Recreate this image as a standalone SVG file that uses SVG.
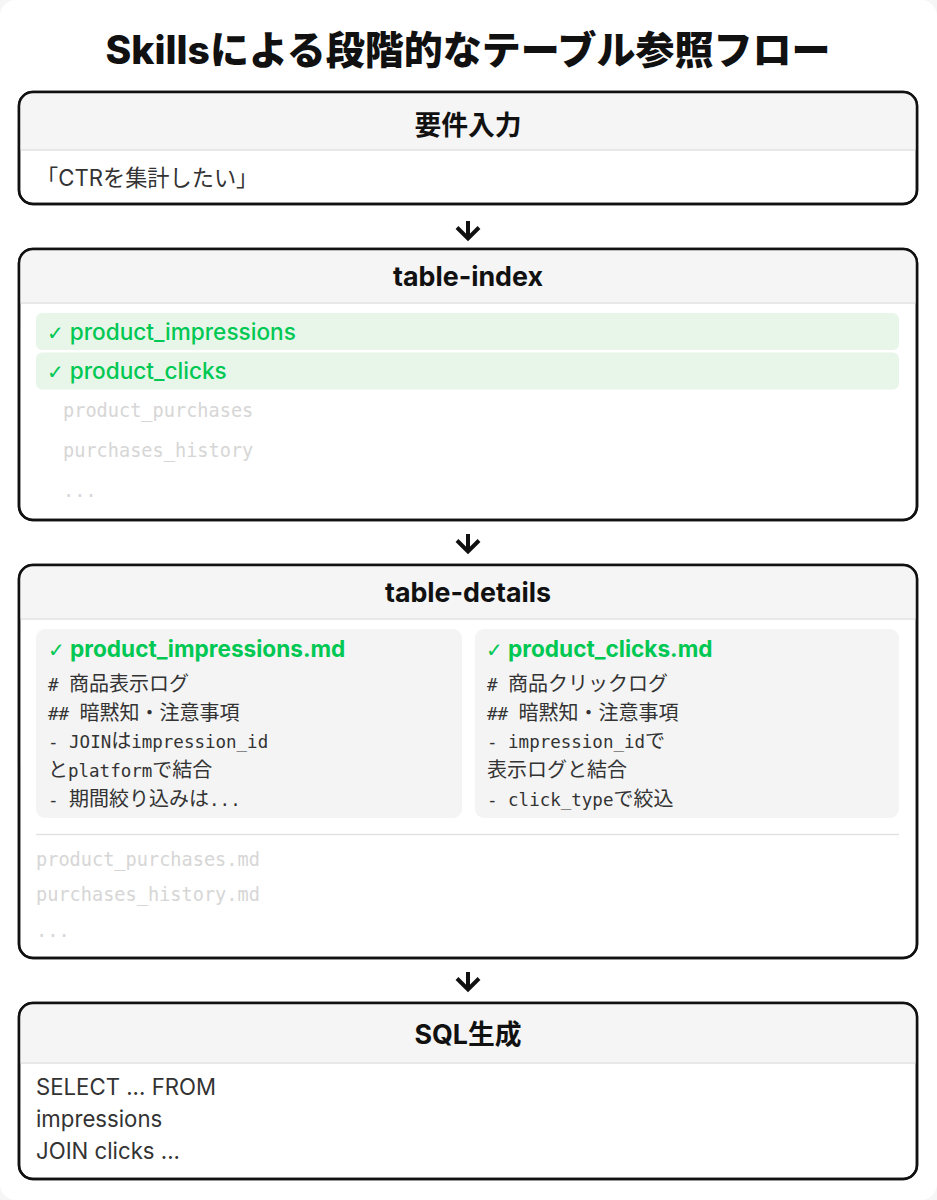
<svg xmlns="http://www.w3.org/2000/svg" width="937" height="1200" viewBox="0 0 937 1200">
<style>
.sans{font-family:Inter,"Noto Sans CJK JP",sans-serif}
.mono{font-family:"DejaVu Sans Mono","Noto Sans CJK JP",monospace}
.box{fill:#ffffff;stroke:#111111;stroke-width:2.5}
.hdr{fill:#f5f5f5}
.sep{stroke:#e2e2e2;stroke-width:1.5}
.htxt{font-size:26.8px;font-weight:700;fill:#111111;text-anchor:middle}
.body{font-size:22.2px;fill:#333333}
.hit{fill:#e8f6ea}
.green{fill:#00c853;font-size:22.6px;font-weight:500}
.gtitle{fill:#00c853;font-size:22.6px;font-weight:700}
.ck{font-family:"DejaVu Sans",sans-serif;font-weight:400;font-size:20px}
.dim{fill:#d6d6d6;font-size:18.6px}
.card{fill:#f4f4f4}
.cl{font-size:17.5px;fill:#333333}
.cj{font-size:20px}
.arrow{fill:none;stroke:#111111;stroke-width:4;stroke-linecap:butt;stroke-linejoin:miter}
</style>
<rect x="0" y="0" width="937" height="1200" fill="#f6f6f6"/>
<rect x="0" y="0" width="937" height="1200" rx="16" fill="#ffffff"/>
<text x="468" y="64" class="sans" font-size="39" font-weight="800" fill="#111111" text-anchor="middle">Skillsによる段階的なテーブル参照フロー</text>

<g id="connectors">
  <path class="arrow" d="M468 221V237M457 227.5L468 238.5L479 227.5"/>
  <path class="arrow" d="M468 534V550M457 540.5L468 551.5L479 540.5"/>
  <path class="arrow" d="M468 972V988M457 978.5L468 989.5L479 978.5"/>
</g>

<g id="node-requirement">
  <clipPath id="c1"><rect x="19" y="92" width="898" height="112" rx="14"/></clipPath>
  <rect class="box" x="19" y="92" width="898" height="112" rx="14"/>
  <rect class="hdr" x="19" y="92" width="898" height="58" clip-path="url(#c1)"/>
  <line class="sep" x1="20" y1="150" x2="916" y2="150"/>
  <rect x="19" y="92" width="898" height="112" rx="14" fill="none" stroke="#111111" stroke-width="2.5"/>
  <text x="468" y="135" class="sans htxt">要件入力</text>
  <text x="36" y="186" class="sans body">「CTRを集計したい」</text>
</g>

<g id="node-table-index">
  <clipPath id="c2"><rect x="19" y="249" width="898" height="271" rx="14"/></clipPath>
  <rect class="box" x="19" y="249" width="898" height="271" rx="14"/>
  <rect class="hdr" x="19" y="249" width="898" height="54" clip-path="url(#c2)"/>
  <line class="sep" x1="20" y1="303" x2="916" y2="303"/>
  <rect x="19" y="249" width="898" height="271" rx="14" fill="none" stroke="#111111" stroke-width="2.5"/>
  <text x="468" y="286" class="sans htxt">table-index</text>
  <rect class="hit" x="36" y="313" width="863" height="37" rx="6"/>
  <rect class="hit" x="36" y="352.5" width="863" height="37" rx="6"/>
  <text x="47" y="340" class="sans green"><tspan class="ck">✓</tspan> product_impressions</text>
  <text x="47" y="379" class="sans green"><tspan class="ck">✓</tspan> product_clicks</text>
  <text x="63" y="417" class="mono dim">product_purchases</text>
  <text x="63" y="457" class="mono dim">purchases_history</text>
  <text x="63" y="497" class="mono dim">...</text>
</g>

<g id="node-table-details">
  <clipPath id="c3"><rect x="19" y="565" width="898" height="393" rx="14"/></clipPath>
  <rect class="box" x="19" y="565" width="898" height="393" rx="14"/>
  <rect class="hdr" x="19" y="565" width="898" height="54" clip-path="url(#c3)"/>
  <line class="sep" x1="20" y1="619" x2="916" y2="619"/>
  <rect x="19" y="565" width="898" height="393" rx="14" fill="none" stroke="#111111" stroke-width="2.5"/>
  <text x="468" y="602" class="sans htxt">table-details</text>

  <g id="card-impressions">
    <rect class="card" x="36" y="629" width="426" height="189" rx="9"/>
    <text x="48" y="657" class="sans gtitle"><tspan class="ck">✓</tspan> product_impressions.md</text>
    <text x="48" y="691" class="mono cl"># <tspan class="cj">商品表示ログ</tspan></text>
    <text x="48" y="720" class="mono cl">## <tspan class="cj">暗黙知・注意事項</tspan></text>
    <text x="48" y="748" class="mono cl">- JOIN<tspan class="cj">は</tspan>impression_id</text>
    <text x="48" y="777" class="mono cl"><tspan class="cj">と</tspan>platform<tspan class="cj">で結合</tspan></text>
    <text x="48" y="806" class="mono cl">- <tspan class="cj">期間絞り込みは</tspan>...</text>
  </g>

  <g id="card-clicks">
    <rect class="card" x="475" y="629" width="424" height="189" rx="9"/>
    <text x="486" y="657" class="sans gtitle"><tspan class="ck">✓</tspan> product_clicks.md</text>
    <text x="487" y="691" class="mono cl"># <tspan class="cj">商品クリックログ</tspan></text>
    <text x="487" y="720" class="mono cl">## <tspan class="cj">暗黙知・注意事項</tspan></text>
    <text x="487" y="748" class="mono cl">- impression_id<tspan class="cj">で</tspan></text>
    <text x="487" y="777" class="mono cl"><tspan class="cj">表示ログと結合</tspan></text>
    <text x="487" y="806" class="mono cl">- click_type<tspan class="cj">で絞込</tspan></text>
  </g>

  <line class="sep" x1="36" y1="834.5" x2="899" y2="834.5"/>
  <text x="36" y="866" class="mono dim">product_purchases.md</text>
  <text x="36" y="901" class="mono dim">purchases_history.md</text>
  <text x="36" y="937" class="mono dim">...</text>
</g>

<g id="node-sql">
  <clipPath id="c4"><rect x="19" y="1003" width="898" height="176" rx="14"/></clipPath>
  <rect class="box" x="19" y="1003" width="898" height="176" rx="14"/>
  <rect class="hdr" x="19" y="1003" width="898" height="60" clip-path="url(#c4)"/>
  <line class="sep" x1="20" y1="1063" x2="916" y2="1063"/>
  <rect x="19" y="1003" width="898" height="176" rx="14" fill="none" stroke="#111111" stroke-width="2.5"/>
  <text x="468" y="1044" class="sans htxt">SQL生成</text>
  <text x="36" y="1095" class="sans body">SELECT ... FROM</text>
  <text x="36" y="1127" class="sans body">impressions</text>
  <text x="36" y="1159" class="sans body">JOIN clicks ...</text>
</g>
</svg>
